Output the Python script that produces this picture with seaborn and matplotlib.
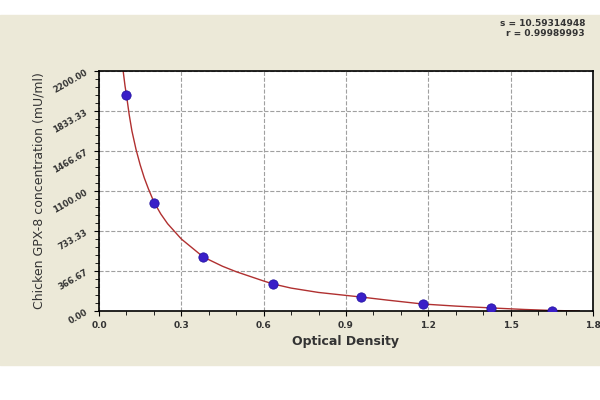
import matplotlib
matplotlib.use("Agg")
import matplotlib.pyplot as plt
import seaborn as sns

# standard points
od = [0.098, 0.2, 0.38, 0.634, 0.955, 1.18, 1.43, 1.65]
conc = [1980, 990, 495, 248, 128, 64, 28, 0]

# fitted curve
curve_x = [0.088, 0.095, 0.1, 0.11, 0.12, 0.135, 0.15, 0.165, 0.18, 0.2, 0.225, 0.25, 0.3, 0.38, 0.45, 0.5, 0.6, 0.634, 0.7, 0.8, 0.955, 1.05, 1.18, 1.3, 1.43, 1.55, 1.65, 1.75]
curve_y = [2200, 2060, 1980, 1800, 1650, 1480, 1340, 1220, 1120, 1000, 890, 800, 660, 495, 410, 360, 275, 248, 210, 170, 128, 100, 64, 45, 28, 14, 5, 0]

yticks = [0, 366.67, 733.33, 1100, 1466.67, 1833.33, 2200]
ytick_labels = ["0.00", "366.67", "733.33", "1100.00", "1466.67", "1833.33", "2200.00"]
xticks = [0.0, 0.3, 0.6, 0.9, 1.2, 1.5, 1.8]

bg = "#ECE9D8"
fig = plt.figure(figsize=(6, 4), dpi=100, facecolor="white")
fig.patches.append(plt.Rectangle((0, 35/400), 1, 350/400, transform=fig.transFigure,
                                 color=bg, zorder=-1))
ax = fig.add_axes([99/600, 89/400, 494/600, 240/400])

sns.lineplot(x=curve_x, y=curve_y, ax=ax, color="#B03030", linewidth=1, sort=False)
sns.scatterplot(x=od, y=conc, ax=ax, color="#3A1FC8", s=45, edgecolor="#2010A0", zorder=5)

ax.set_xlim(0, 1.8)
ax.set_ylim(0, 2200)
ax.set_xticks(xticks)
ax.set_xticklabels([f"{v:.1f}" for v in xticks], fontsize=6.5, fontweight="bold", color="#333333")
ax.set_yticks(yticks)
ax.set_yticklabels(ytick_labels, fontsize=6, fontweight="bold", color="#333333", rotation=30)
ax.set_xticks([0.1 * i for i in range(19)], minor=True)
ax.set_yticks([73.33 * i for i in range(31)], minor=True)
ax.tick_params(which="minor", length=3)
ax.grid(True, which="major", linestyle="--", color="#A0A0A0", linewidth=0.8)
ax.set_xlabel("Optical Density", fontsize=9, fontweight="bold", color="#333333")
ax.set_ylabel("Chicken GPX-8 concentration (mU/ml)", fontsize=9, color="#333333")
for s in ax.spines.values():
    s.set_linewidth(1.2)
fig.text(0.975, 0.905, "s = 10.59314948\nr = 0.99989993", ha="right", va="bottom",
         fontsize=6.5, fontweight="bold", color="#333333", linespacing=1.1)

fig.savefig("out.png", dpi=100, facecolor=fig.get_facecolor())
